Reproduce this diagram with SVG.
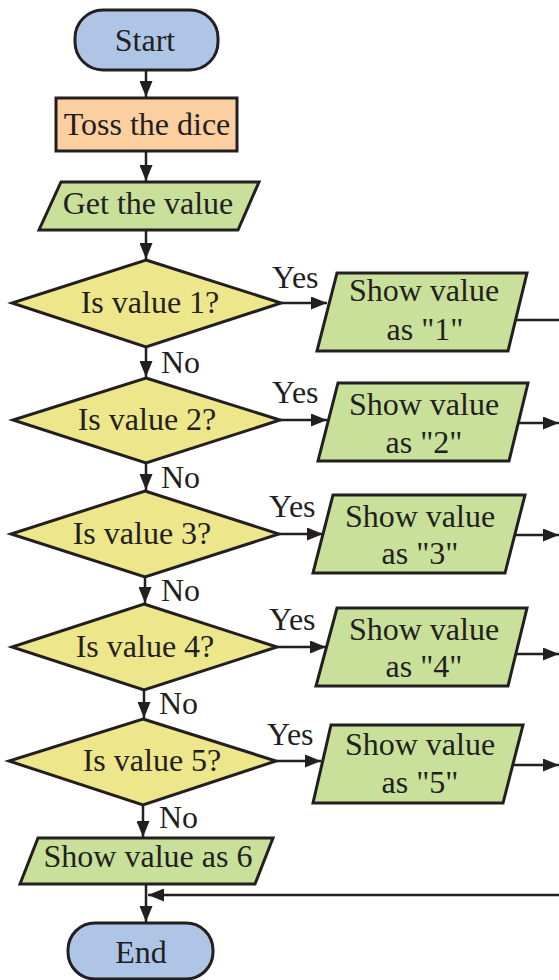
<svg xmlns="http://www.w3.org/2000/svg" width="559" height="980" viewBox="0 0 559 980" font-family="'Liberation Serif', 'DejaVu Serif', serif">
  <style>
    text { font-family: "Liberation Serif", "DejaVu Serif", serif; font-size: 32px; fill: #231f20; }
    .c { text-anchor: middle; }
    .shape { stroke: #231f20; stroke-width: 3; stroke-linejoin: miter; }
    .term { fill: #afc5e6; }
    .proc { fill: #fbcfa0; }
    .io { fill: #c8e09a; }
    .dec { fill: #ede68a; }
    .wire { stroke: #231f20; stroke-width: 2.5; fill: none; }
    .arr { marker-end: url(#head); }
  </style>
  <defs>
    <marker id="head" markerUnits="userSpaceOnUse" markerWidth="17" markerHeight="13" refX="16" refY="6.5" orient="auto">
      <path d="M0,0 L16,6.5 L0,13 z" fill="#231f20"/>
    </marker>
  </defs>

  <rect width="559" height="980" fill="#ffffff"/>

  <!-- connectors -->
  <g id="connectors">
    <line class="wire arr" x1="146" y1="70" x2="146" y2="97"/>
    <line class="wire arr" x1="146" y1="151" x2="146" y2="181"/>
    <line class="wire arr" x1="146" y1="230" x2="146" y2="259"/>
    <line class="wire arr" x1="146" y1="347" x2="146" y2="377"/>
    <line class="wire arr" x1="146" y1="463" x2="146" y2="490"/>
    <line class="wire arr" x1="145" y1="577" x2="145" y2="603"/>
    <line class="wire arr" x1="144" y1="690" x2="144" y2="718"/>
    <line class="wire arr" x1="143" y1="805" x2="143" y2="837"/>
    <line class="wire arr" x1="146" y1="884" x2="146" y2="922"/>
    <line class="wire arr" x1="559" y1="895" x2="148" y2="895"/>
    <!-- yes branches -->
    <line class="wire arr" x1="281" y1="303" x2="327" y2="303"/>
    <line class="wire arr" x1="280" y1="420" x2="327" y2="420"/>
    <line class="wire arr" x1="279" y1="534" x2="323" y2="534"/>
    <line class="wire arr" x1="277" y1="647" x2="326" y2="647"/>
    <line class="wire arr" x1="276" y1="761" x2="321" y2="761"/>
    <!-- outputs to the return line -->
    <line class="wire" x1="515" y1="320" x2="559" y2="320"/>
    <line class="wire arr" x1="518" y1="423" x2="559" y2="423"/>
    <line class="wire arr" x1="515" y1="535" x2="559" y2="535"/>
    <line class="wire arr" x1="516" y1="654" x2="559" y2="654"/>
    <line class="wire arr" x1="513" y1="765" x2="559" y2="765"/>
    <!-- branch labels -->
    <text x="272" y="288">Yes</text>
    <text x="272" y="403">Yes</text>
    <text x="269" y="517">Yes</text>
    <text x="269" y="630">Yes</text>
    <text x="267" y="745">Yes</text>
    <text x="161" y="373">No</text>
    <text x="161" y="488">No</text>
    <text x="161" y="601">No</text>
    <text x="159" y="714">No</text>
    <text x="159" y="828">No</text>
  </g>

  <g id="start">
    <rect class="shape term" x="75" y="10" width="143" height="60" rx="28"/>
    <text class="c" x="145" y="51">Start</text>
  </g>
  <g id="toss">
    <rect class="shape proc" x="56" y="98" width="181" height="53"/>
    <text class="c" x="147" y="135">Toss the dice</text>
  </g>
  <g id="get-value">
    <polygon class="shape io" points="61,182 259,182 238,230 39,230"/>
    <text class="c" x="148" y="214">Get the value</text>
  </g>

  <g id="check1">
    <polygon class="shape dec" points="146,260 281,303 146,347 12,303"/>
    <text class="c" x="150" y="313">Is value 1?</text>
  </g>
  <g id="check2">
    <polygon class="shape dec" points="146,378 280,420 146,463 13,420"/>
    <text class="c" x="147" y="430">Is value 2?</text>
  </g>
  <g id="check3">
    <polygon class="shape dec" points="145,491 279,534 145,577 11,534"/>
    <text class="c" x="142" y="544">Is value 3?</text>
  </g>
  <g id="check4">
    <polygon class="shape dec" points="144,604 277,647 144,690 12,647"/>
    <text class="c" x="145" y="657">Is value 4?</text>
  </g>
  <g id="check5">
    <polygon class="shape dec" points="143,719 276,761 143,805 9,761"/>
    <text class="c" x="152" y="771">Is value 5?</text>
  </g>

  <g id="show1">
    <polygon class="shape io" points="337,273 527,273 508,351 317,351"/>
    <text class="c" x="424" y="301">Show value</text>
    <text class="c" x="425" y="340">as "1"</text>
  </g>
  <g id="show2">
    <polygon class="shape io" points="338,383 528,383 509,461 318,461"/>
    <text class="c" x="424" y="415">Show value</text>
    <text class="c" x="424" y="453">as "2"</text>
  </g>
  <g id="show3">
    <polygon class="shape io" points="333,495 525,495 505,573 313,573"/>
    <text class="c" x="420" y="527">Show value</text>
    <text class="c" x="420" y="564">as "3"</text>
  </g>
  <g id="show4">
    <polygon class="shape io" points="337,608 527,608 508,686 316,686"/>
    <text class="c" x="424" y="640">Show value</text>
    <text class="c" x="424" y="677">as "4"</text>
  </g>
  <g id="show5">
    <polygon class="shape io" points="331,725 523,725 503,803 313,803"/>
    <text class="c" x="420" y="755">Show value</text>
    <text class="c" x="420" y="793">as "5"</text>
  </g>

  <g id="show6">
    <polygon class="shape io" points="38,838 273,838 255,884 20,884"/>
    <text class="c" x="148" y="867">Show value as 6</text>
  </g>

  <g id="end">
    <rect class="shape term" x="68" y="923" width="145" height="56" rx="27"/>
    <text class="c" x="141" y="963">End</text>
  </g>
</svg>
